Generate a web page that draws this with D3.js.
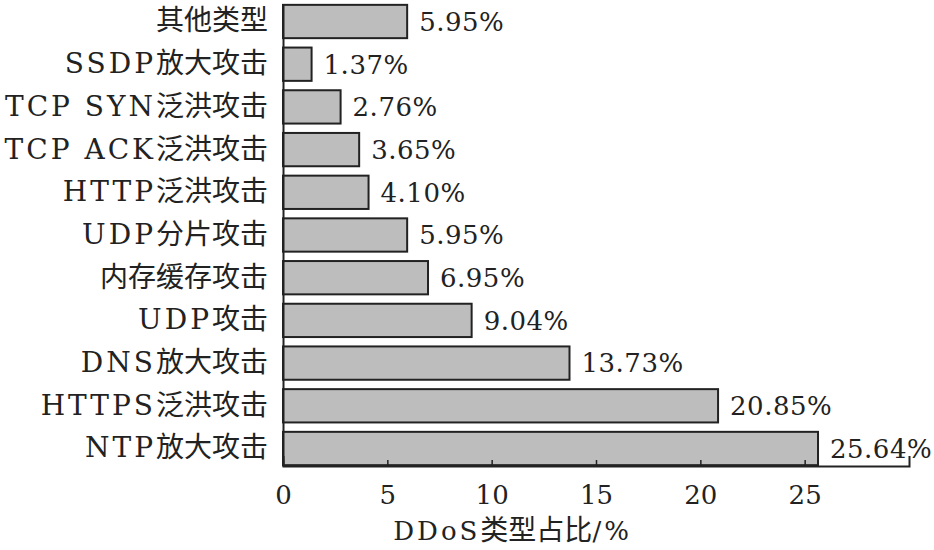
<!DOCTYPE html>
<html>
<head>
<meta charset="utf-8">
<script src="https://cdn.jsdelivr.net/npm/d3@7"></script>
<style>
  body { margin: 0; background: #fff; }
  svg text { font-family: "DejaVu Serif", "Noto Sans CJK SC", serif; fill: #222; }
  tspan.cjk { font-family: "Noto Sans CJK SC", sans-serif; font-size: 28px; }
  tspan.latin { letter-spacing: 3px; }
</style>
</head>
<body>
<svg id="chart" width="934" height="550"></svg>
<script>
'use strict';

// Categories listed top to bottom.
const categories = [
  '其他类型', 'SSDP放大攻击', 'TCP SYN泛洪攻击', 'TCP ACK泛洪攻击', 'HTTP泛洪攻击',
  'UDP分片攻击', '内存缓存攻击', 'UDP攻击', 'DNS放大攻击', 'HTTPS泛洪攻击', 'NTP放大攻击'
];
const shares = [5.95, 1.37, 2.76, 3.65, 4.10, 5.95, 6.95, 9.04, 13.73, 20.85, 25.64];
const xTicks = [0, 5, 10, 15, 20, 25];
const xTitle = 'DDoS类型占比/%';

const data = categories.map((c, i) => ({ label: c, value: shares[i] }));

const margin = { top: 4, left: 283 };
const chartWidth = 626;
const chartHeight = 462;

// Splits a label into CJK and latin runs so each gets its own font.
const writeRuns = (sel, str) => {
  sel.text(null);
  (str.match(/[\u4e00-\u9fff]+|[^\u4e00-\u9fff]+/g) || []).forEach(run => {
    sel.append('tspan')
      .attr('class', /[\u4e00-\u9fff]/.test(run) ? 'cjk' : 'latin')
      .text(run);
  });
};

const svg = d3.select('#chart');
const g = svg.append('g')
  .attr('transform', `translate(${margin.left},${margin.top})`);

const x = d3.scaleLinear()
  .domain([0, 30])
  .range([0, chartWidth]);

const y = d3.scaleBand()
  .domain(categories)
  .range([0, chartHeight])
  .paddingInner(0.22)
  .paddingOuter(0.02);

// Bars
g.selectAll('rect.bar')
  .data(data)
  .join('rect')
  .attr('class', 'bar')
  .attr('x', x(0))
  .attr('y', d => y(d.label))
  .attr('width', d => x(d.value) - x(0))
  .attr('height', y.bandwidth())
  .attr('fill', '#bdbdbd')
  .attr('stroke', '#222')
  .attr('stroke-width', 2);

// Value labels
g.selectAll('text.value')
  .data(data)
  .join('text')
  .attr('class', 'value')
  .attr('x', d => x(d.value) + 12)
  .attr('y', d => y(d.label) + y.bandwidth() / 2)
  .attr('dy', '0.36em')
  .style('font-size', '26px')
  .style('letter-spacing', '0.5px')
  .text(d => d.value.toFixed(2) + '%');

// X axis, ticks pointing inward
const xAxis = g.append('g')
  .attr('transform', `translate(0,${chartHeight})`)
  .call(d3.axisBottom(x)
    .tickValues(xTicks)
    .tickSize(-6)
    .tickSizeOuter(-10)
    .tickPadding(20));
xAxis.select('.domain').attr('stroke', '#222').attr('stroke-width', 2);
xAxis.selectAll('.tick line').attr('stroke', '#222').attr('stroke-width', 1.5);
xAxis.selectAll('.tick text')
  .style('font-size', '26px')
  .attr('fill', '#222');

// Y axis
const yAxis = g.append('g')
  .call(d3.axisLeft(y).tickSize(0).tickSizeOuter(0).tickPadding(15));
yAxis.select('.domain').attr('stroke', '#222').attr('stroke-width', 2);
yAxis.selectAll('.tick text')
  .style('font-size', '28px')
  .attr('fill', '#222')
  .each(function(d) { writeRuns(d3.select(this), d); });

// Axis title
const title = g.append('text')
  .attr('x', x(11))
  .attr('y', chartHeight + 74)
  .attr('text-anchor', 'middle')
  .style('font-size', '26px');
writeRuns(title, xTitle);
</script>
</body>
</html>
